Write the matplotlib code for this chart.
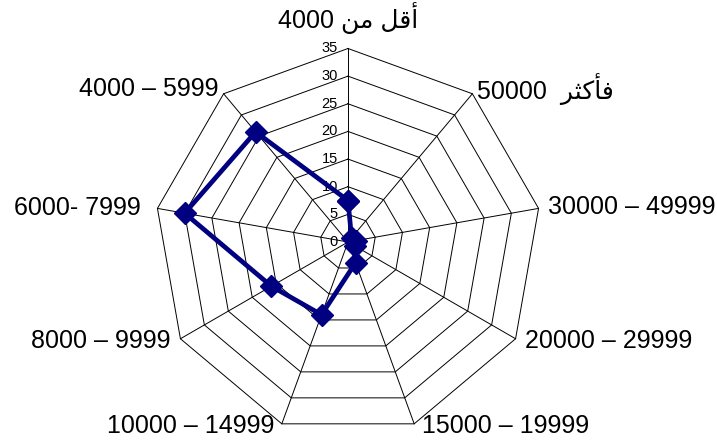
import numpy as np
import matplotlib.pyplot as plt

plt.rcParams['font.family'] = ['Liberation Sans', 'DejaVu Sans']

# arabic presentation forms: isolated, final, initial, medial (None = letter never joins forward)
AR_FORMS = {
    'أ': ('\uFE83', '\uFE84', None, None),
    'ر': ('\uFEAD', '\uFEAE', None, None),
    'ث': ('\uFE99', '\uFE9A', '\uFE9B', '\uFE9C'),
    'ف': ('\uFED1', '\uFED2', '\uFED3', '\uFED4'),
    'ق': ('\uFED5', '\uFED6', '\uFED7', '\uFED8'),
    'ك': ('\uFED9', '\uFEDA', '\uFEDB', '\uFEDC'),
    'ل': ('\uFEDD', '\uFEDE', '\uFEDF', '\uFEE0'),
    'م': ('\uFEE1', '\uFEE2', '\uFEE3', '\uFEE4'),
    'ن': ('\uFEE5', '\uFEE6', '\uFEE7', '\uFEE8'),
}


def shape_word(word):
    out = []
    for i, ch in enumerate(word):
        iso, fin, ini, med = AR_FORMS[ch]
        joins_prev = i > 0 and AR_FORMS[word[i - 1]][2] is not None
        joins_next = i < len(word) - 1 and ini is not None
        if joins_prev and joins_next:
            out.append(med)
        elif joins_prev:
            out.append(fin)
        elif joins_next:
            out.append(ini)
        else:
            out.append(iso)
    return ''.join(reversed(out))


def ar(text):
    # matplotlib does no shaping / bidi, so do it by hand and lay words out right to left
    return ' '.join(shape_word(w) for w in reversed(text.split()))


categories = ['4000 ' + ar('أقل من'), '50000  ' + ar('فأكثر'), '30000 – 49999',
              '20000 – 29999', '15000 – 19999', '10000 – 14999', '8000 – 9999',
              '6000- 7999', '4000 – 5999']
values = [7.5, 1, 1.5, 1.5, 4, 14, 16, 30, 26]
ticks = [0, 5, 10, 15, 20, 25, 30, 35]

# label offsets from the outer vertex in pixels, and alignment
lab_off = [(0, 30), (5, 5), (9, 1), (9, -2), (8, -2), (-7, -2), (-10, -2), (-17, 0), (-5, 5)]
lab_ha = ['center', 'left', 'left', 'left', 'left', 'right', 'right', 'right', 'right']

n = len(categories)
ang = np.arange(n) * 2 * np.pi / n   # clockwise from top
rmax = ticks[-1]

fig = plt.figure(figsize=(7.17, 4.42), dpi=100)
ax = fig.add_axes([0, 0, 1, 1])
ax.axis('off')
s = 193.5 / rmax   # pixels per unit
ax.set_xlim(-348 / s, (717 - 348) / s)
ax.set_ylim(-(442 - 242) / s, 242 / s)

# web grid
for t in ticks[1:]:
    xs = t * np.sin(np.append(ang, ang[0]))
    ys = t * np.cos(np.append(ang, ang[0]))
    ax.plot(xs, ys, color='black', lw=0.7, zorder=1)
for a in ang:
    ax.plot([0, rmax * np.sin(a)], [0, rmax * np.cos(a)], color='black', lw=0.7, zorder=1)

for t in ticks:
    ax.annotate(str(t), (0, t), xytext=(-10, 0), textcoords='offset pixels',
                ha='right', va='center', fontsize=10.5, zorder=2)

for i, lab in enumerate(categories):
    ax.annotate(lab, (rmax * np.sin(ang[i]), rmax * np.cos(ang[i])), xytext=lab_off[i],
                textcoords='offset pixels', ha=lab_ha[i], va='center', fontsize=18)

v = np.append(values, values[0])
a2 = np.append(ang, ang[0])
ax.plot(v * np.sin(a2), v * np.cos(a2), color='#000080', lw=3.4, marker='D',
        markersize=11.5, zorder=3)

fig.savefig('out.png', dpi=100)
